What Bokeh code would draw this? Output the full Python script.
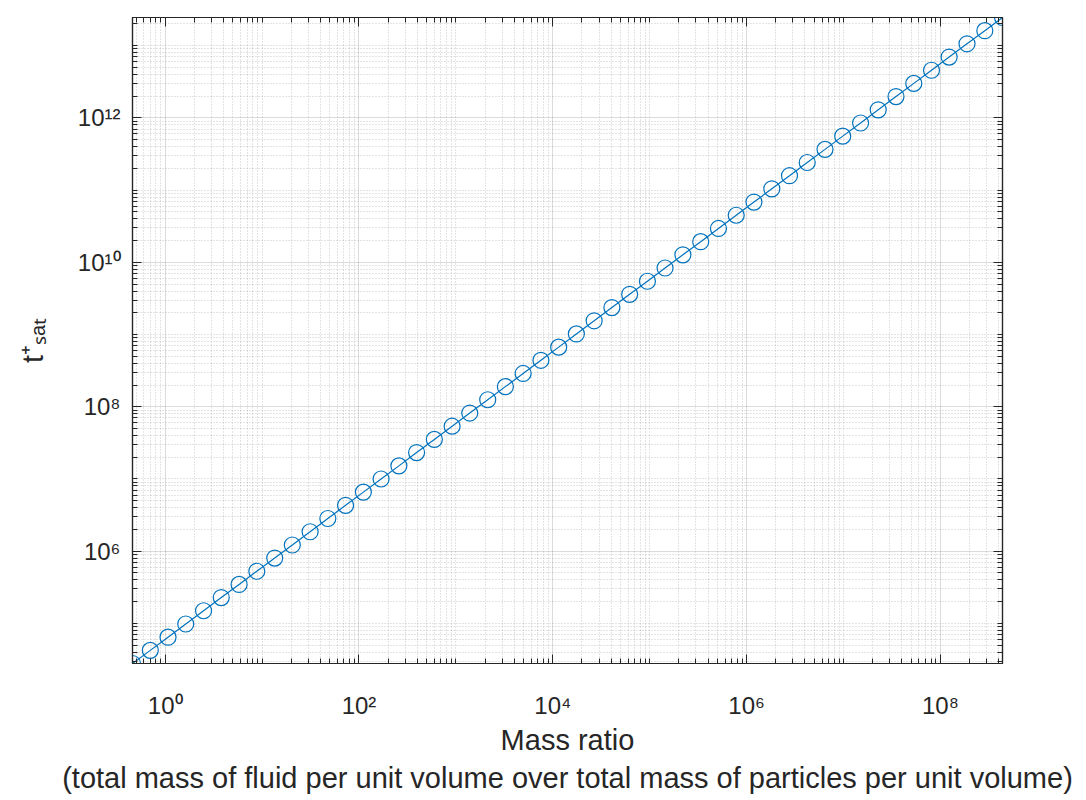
from bokeh.plotting import figure
from bokeh.models import Range1d, FixedTicker, LogAxis, CustomJSTickFormatter
from bokeh.embed import file_html
from bokeh.resources import INLINE

# ---- data ----
x_ratio = [0.460, 0.702, 1.07, 1.63, 2.49, 3.79, 5.79, 8.82, 13.5, 20.5,
           31.3, 47.7, 72.7, 111, 169, 258, 393, 599, 914, 1390,
           2130, 3240, 4940, 7540, 11500, 17500, 26700, 40700, 62100, 94700,
           1.44e5, 2.20e5, 3.36e5, 5.12e5, 7.81e5, 1.19e6, 1.82e6, 2.77e6, 4.22e6, 6.44e6,
           9.81e6, 1.50e7, 2.28e7, 3.48e7, 5.31e7, 8.09e7, 1.23e8, 1.88e8, 2.87e8, 4.37e8]
t_sat = [2.79e4, 4.24e4, 6.46e4, 9.83e4, 1.50e5, 2.28e5, 3.47e5, 5.28e5, 8.04e5, 1.22e6,
         1.86e6, 2.84e6, 4.32e6, 6.58e6, 1.00e7, 1.52e7, 2.32e7, 3.53e7, 5.38e7, 8.19e7,
         1.25e8, 1.90e8, 2.89e8, 4.40e8, 6.69e8, 1.02e9, 1.55e9, 2.36e9, 3.60e9, 5.47e9,
         8.34e9, 1.27e10, 1.93e10, 2.94e10, 4.48e10, 6.82e10, 1.04e11, 1.58e11, 2.41e11, 3.66e11,
         5.58e11, 8.49e11, 1.29e12, 1.97e12, 3.00e12, 4.56e12, 6.94e12, 1.06e13, 1.61e13, 2.45e13]

x_major = [1, 1e2, 1e4, 1e6, 1e8]
y_major = [1e6, 1e8, 1e10, 1e12]
x_decades = list(range(-1, 9))
y_decades = list(range(4, 14))

x_label = "Mass ratio\n(total mass of fluid per unit volume over total mass of particles per unit volume)"
y_label = "t\u207a\u209b\u2090\u209c"

FONT = "Liberation Sans"
DARK = "#262626"
BLUE = "#0072BD"


def minors(decades, majors):
    out = []
    for k in decades:
        for m in range(1, 10):
            v = m * 10.0 ** k
            if not any(abs(v - mj) / mj < 1e-9 for mj in majors):
                out.append(v)
    return out


fmt = CustomJSTickFormatter(code="""
const e = Math.round(Math.log10(tick));
const sup = {'0':'\u2070','1':'\u00b9','2':'\u00b2','3':'\u00b3','4':'\u2074','5':'\u2075','6':'\u2076','7':'\u2077','8':'\u2078','9':'\u2079','-':'\u207b'};
return '10' + String(e).split('').map(c => sup[c]).join('');
""")
blank = CustomJSTickFormatter(code="return ' ';")

p = figure(width=1086, height=800, x_axis_type="log", y_axis_type="log",
           x_range=Range1d(x_ratio[0], x_ratio[-1]),
           y_range=Range1d(t_sat[0], t_sat[-1]),
           output_backend="svg", toolbar_location=None,
           min_border_left=132, min_border_right=84,
           min_border_top=17, min_border_bottom=137)
p.background_fill_color = "white"
p.border_fill_color = "white"
p.outline_line_color = DARK
p.outline_line_width = 1.2

xt = FixedTicker(ticks=x_major, minor_ticks=minors(x_decades, x_major))
yt = FixedTicker(ticks=y_major, minor_ticks=minors(y_decades, y_major))

xa = p.xaxis[0]
ya = p.yaxis[0]
xa.ticker = xt
ya.ticker = yt
xa.formatter = fmt
ya.formatter = fmt

for ax in (xa, ya):
    ax.axis_line_color = DARK
    ax.axis_line_width = 1.2
    ax.major_tick_line_color = DARK
    ax.minor_tick_line_color = DARK
    ax.major_tick_in = 9
    ax.major_tick_out = 0
    ax.minor_tick_in = 5
    ax.minor_tick_out = 0
    ax.major_label_text_font = FONT
    ax.major_label_text_font_size = "24px"
    ax.major_label_text_color = DARK
    ax.axis_label_text_font = FONT
    ax.axis_label_text_font_size = "29px"
    ax.axis_label_text_font_style = "normal"
    ax.axis_label_text_color = DARK

xa.axis_label = x_label
xa.major_label_standoff = 28
xa.axis_label_standoff = 2
ya.axis_label = y_label
ya.major_label_standoff = 12
ya.axis_label_standoff = 26

# box axes (top and right), ticks only
top = LogAxis(ticker=xt, formatter=blank)
right = LogAxis(ticker=yt, formatter=blank)
for ax in (top, right):
    ax.axis_line_color = DARK
    ax.axis_line_width = 1.2
    ax.major_tick_line_color = DARK
    ax.minor_tick_line_color = DARK
    ax.major_tick_in = 9
    ax.major_tick_out = 0
    ax.minor_tick_in = 5
    ax.minor_tick_out = 0
    ax.major_label_standoff = 0
    ax.major_label_text_font_size = "4px"
p.add_layout(top, "above")
p.add_layout(right, "right")

for g in (p.xgrid[0], p.ygrid[0]):
    g.grid_line_color = DARK
    g.grid_line_alpha = 0.16
    g.grid_line_width = 1
    g.minor_grid_line_color = DARK
    g.minor_grid_line_alpha = 0.25
    g.minor_grid_line_dash = "1 2"
    g.minor_grid_line_width = 1
p.xgrid[0].ticker = xt
p.ygrid[0].ticker = yt

p.line(x_ratio, t_sat, line_color=BLUE, line_width=1.2)
p.scatter(x_ratio, t_sat, marker="circle", size=16, fill_color=None,
          line_color=BLUE, line_width=1.2)

open("out.html", "w").write(file_html(p, INLINE))
